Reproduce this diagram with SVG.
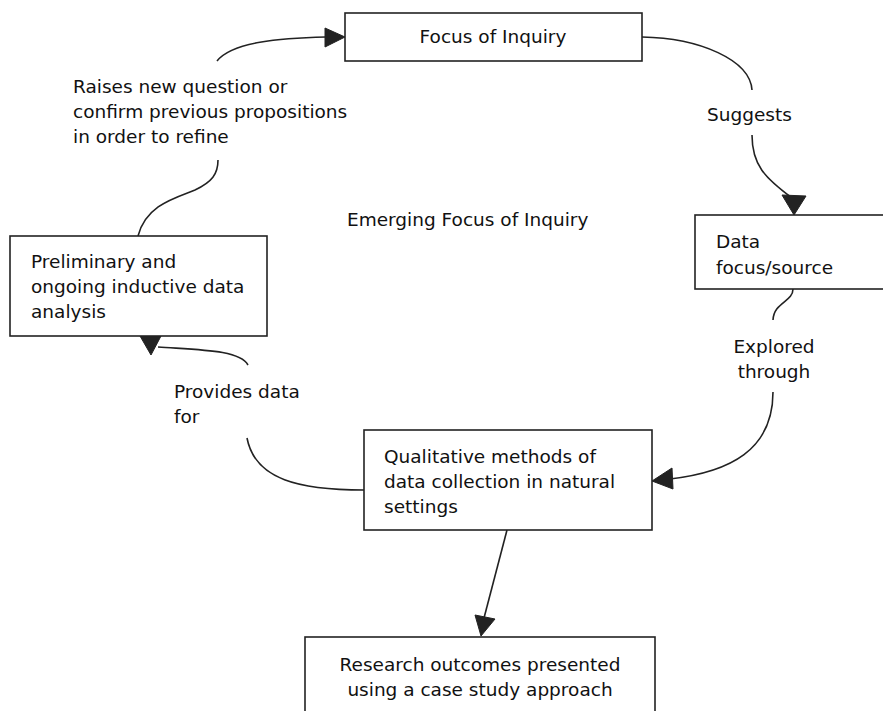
<svg xmlns="http://www.w3.org/2000/svg" width="883" height="711" viewBox="0 0 883 711">
<style>
  .box { fill: #fff; stroke: #222; stroke-width: 1.6; }
  .t { font-family: "DejaVu Sans", Verdana, sans-serif; font-size: 18.5px; fill: #111; }
  .c { fill: none; stroke: #222; stroke-width: 1.6; }
  .ah { fill: #222; stroke: #222; stroke-width: 1; }
</style>
<rect width="883" height="711" fill="#fff"/>
<g id="connectors">
  <path class="c" d="M217,61 C232,42 280,38 326,37"/>
  <polygon class="ah" points="345,37 325,28 325,47"/>
  <path class="c" d="M138,236 C146,205 175,198 195,190 C212,182 218,174 218,160"/>
  <path class="c" d="M642,37 C700,38 750,60 752,90"/>
  <path class="c" d="M752,135 C752,165 765,178 792,198"/>
  <polygon class="ah" points="794,215 782,195 806,196"/>
  <path class="c" d="M793,289 C793,302 774,302 773,320"/>
  <path class="c" d="M773,392 C773,450 730,472 670,479"/>
  <polygon class="ah" points="652,481 672,468 673,489"/>
  <path class="c" d="M364,490 C300,490 255,480 247,438"/>
  <path class="c" d="M248,365 C240,350 200,350 158,347"/>
  <polygon class="ah" points="140,336 161,336 151,355"/>
  <path class="c" d="M507,530 L484,618"/>
  <polygon class="ah" points="475,615 495,619 481,636"/>
</g>
<g id="focus">
  <rect class="box" x="345" y="13" width="297" height="48"/>
  <text class="t" x="493" y="43" text-anchor="middle">Focus of Inquiry</text>
</g>
<g id="label-raises">
  <text class="t" x="73" y="93">Raises new question or</text>
  <text class="t" x="73" y="118">confirm previous propositions</text>
  <text class="t" x="73" y="143">in order to refine</text>
</g>
<g id="label-suggests">
  <text class="t" x="707" y="121">Suggests</text>
</g>
<g id="emerging">
  <text class="t" x="347" y="226">Emerging Focus of Inquiry</text>
</g>
<g id="data">
  <rect class="box" x="695" y="215" width="200" height="74"/>
  <text class="t" x="716" y="248">Data</text>
  <text class="t" x="716" y="274">focus/source</text>
</g>
<g id="preliminary">
  <rect class="box" x="10" y="236" width="257" height="100"/>
  <text class="t" x="31" y="268">Preliminary and</text>
  <text class="t" x="31" y="293">ongoing inductive data</text>
  <text class="t" x="31" y="318">analysis</text>
</g>
<g id="label-explored">
  <text class="t" x="774" y="353" text-anchor="middle">Explored</text>
  <text class="t" x="774" y="378" text-anchor="middle">through</text>
</g>
<g id="label-provides">
  <text class="t" x="174" y="398">Provides data</text>
  <text class="t" x="174" y="423">for</text>
</g>
<g id="qualitative">
  <rect class="box" x="364" y="430" width="288" height="100"/>
  <text class="t" x="384" y="463">Qualitative methods of</text>
  <text class="t" x="384" y="488">data collection in natural</text>
  <text class="t" x="384" y="513">settings</text>
</g>
<g id="research">
  <rect class="box" x="305" y="637" width="350" height="80"/>
  <text class="t" x="480" y="671" text-anchor="middle">Research outcomes presented</text>
  <text class="t" x="480" y="696" text-anchor="middle">using a case study approach</text>
</g>
</svg>
